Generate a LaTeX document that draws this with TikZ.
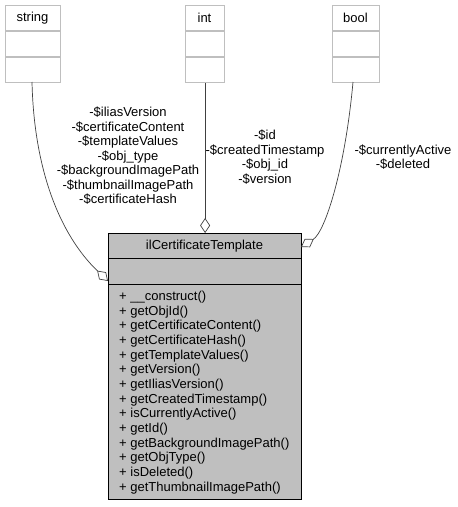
\documentclass[tikz,border=0pt]{standalone}
\usepackage{fontspec}
\setmainfont{Liberation Sans}
\usetikzlibrary{arrows.meta}
\definecolor{boxgray}{RGB}{191,191,191}
\definecolor{edgegray}{RGB}{64,64,64}
\begin{document}
\begin{tikzpicture}[x=1pt,y=-1pt,
  typebox/.style={draw=boxgray,line width=1.2pt,fill=white,minimum width=#1,minimum height=77pt,anchor=north west,inner sep=0pt},
  typetitle/.style={font=\fontsize{13}{14}\selectfont,inner sep=0pt},
  lbl/.style={font=\fontsize{13}{14.5}\selectfont,align=center,inner sep=0pt},
  dia/.style={{Diamond[open,length=15pt,width=10pt]}-},
  conn/.style={draw=edgegray,line width=0.7pt}]
\useasboundingbox (0,0) rectangle (458,507);
% type boxes
\node[typebox=55pt] (string) at (5,5) {};
\draw[boxgray,line width=1.2pt] (5,31) -- (60,31) (5,57) -- (60,57);
\node[typetitle] (stringt) at (32.5,18) {string};
\node[typebox=39pt] (int) at (185,5) {};
\draw[boxgray,line width=1.2pt] (185,31) -- (224,31) (185,57) -- (224,57);
\node[typetitle] (intt) at (204.5,18) {int};
\node[typebox=47pt] (bool) at (332,5) {};
\draw[boxgray,line width=1.2pt] (332,31) -- (379,31) (332,57) -- (379,57);
\node[typetitle] (boolt) at (355.5,18) {bool};
% main class
\node[draw=black,line width=1pt,fill=boxgray,minimum width=193pt,minimum height=266pt,anchor=north west,inner sep=0pt] (main) at (108,233) {};
\draw[line width=1pt] (108,258) -- (301,258) (108,284) -- (301,284);
\node[typetitle] (maint) at (204.5,246) {ilCertificateTemplate};
\node[lbl,align=left,anchor=north west,font=\fontsize{13}{14.65}\selectfont] (methods) at (119,291) {%
+ \_\_construct()\\
+ getObjId()\\
+ getCertificateContent()\\
+ getCertificateHash()\\
+ getTemplateValues()\\
+ getVersion()\\
+ getIliasVersion()\\
+ getCreatedTimestamp()\\
+ isCurrentlyActive()\\
+ getId()\\
+ getBackgroundImagePath()\\
+ getObjType()\\
+ isDeleted()\\
+ getThumbnailImagePath()};
% connectors
\coordinate (sa) at (108,281);
\coordinate (ba) at (301,247);
\draw[conn,dia] (main.north -| int.south) -- (int.south);
\draw[conn,dia] (sa) .. controls (60,235) and (34,170) .. (32,82);
\draw[conn,dia] (ba) .. controls (325,232) and (345,170) .. (353,82);
% labels
\node[lbl] (sl) at (128,156) {-\$iliasVersion\\-\$certificateContent\\-\$templateValues\\-\$obj\_type\\-\$backgroundImagePath\\-\$thumbnailImagePath\\-\$certificateHash};
\node[lbl] (il) at (265,157) {-\$id\\-\$createdTimestamp\\-\$obj\_id\\-\$version};
\node[lbl] (bl) at (403,157) {-\$currentlyActive\\-\$deleted};
\end{tikzpicture}
\end{document}
